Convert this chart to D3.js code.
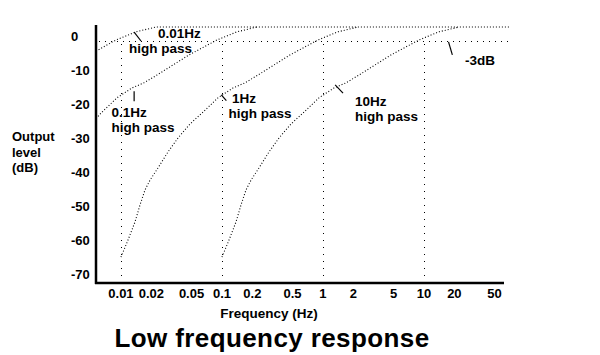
<!DOCTYPE html>
<html><head><meta charset="utf-8">
<script src="https://cdn.jsdelivr.net/npm/d3@7/dist/d3.min.js"></script>
<style>
html,body{margin:0;padding:0;background:#fff;}
svg{display:block;}
text{font-family:"Liberation Sans",Arial,sans-serif;font-weight:bold;fill:#000;}
</style></head>
<body>
<svg id="chart" width="600" height="355"></svg>
<script>
// ---- data ----
const freqTicks  = [0.01,0.02,0.05,0.1,0.2,0.5,1,2,5,10,20,50];
const freqLabels = ["0.01","0.02","0.05","0.1","0.2","0.5","1","2","5","10","20","50"];
const dbTicks    = [0,-10,-20,-30,-40,-50,-60,-70];
const gridFreqs  = [0.01,0.1,1,10];

// 0.01 Hz high pass (continues as the flat top line)
const hp001_f  = [0.00566,0.00892,0.01408,0.02221,71];
const hp001_db = [-4.5,-1.2,1.2,2.6,2.6];
// 0.1 Hz high pass
const hp01_f  = [0.00566,0.00649,0.00913,0.01285,0.01689,0.02272,0.04713,0.0892,0.1408,0.2221];
const hp01_db = [-24.3,-22.4,-18.2,-15.3,-13.8,-11.5,-5.6,-1.2,1.2,2.6];
// 1 Hz high pass
const hp1_f  = [0.0100,0.01173,0.01376,0.01542,0.01728,0.01937,0.02325,0.0292,0.0367,0.0482,0.0649,0.0913,0.1285,0.1689,0.2272,0.4713,0.892,1.408,2.221];
const hp1_db = [-65.0,-60.0,-54.7,-49.7,-45.3,-42.4,-38.8,-34.1,-30.0,-25.9,-22.4,-18.2,-15.3,-13.8,-11.5,-5.6,-1.2,1.2,2.6];
// 10 Hz high pass
const hp10_f  = [0.100,0.1173,0.1376,0.1542,0.1728,0.1937,0.2325,0.292,0.367,0.482,0.649,0.913,1.285,1.689,2.272,4.713,8.92,14.08,22.21];
const hp10_db = [-65.0,-60.0,-54.7,-49.7,-45.3,-42.4,-38.8,-34.1,-30.0,-25.9,-22.4,-18.2,-15.3,-13.8,-11.5,-5.6,-1.2,1.2,2.6];

// -3 dB reference line
const ref3_f  = [0.00606,71];
const ref3_db = [-1.76,-1.76];

// ---- chart ----
const svg = d3.select("#chart");
const x = d3.scaleLog().domain([0.00566,62]).range([96,504]);
const y = d3.scaleLinear().domain([3.2,-72.6]).range([25,283]);

const line = d3.line().x(d=>x(d[0])).y(d=>y(d[1]));
const zip = (a,b)=>a.map((v,i)=>[v,b[i]]);

// vertical dotted grid lines
svg.append("g").selectAll("line").data(gridFreqs).join("line")
  .attr("x1",d=>Math.round(x(d))+0.5).attr("x2",d=>Math.round(x(d))+0.5)
  .attr("y1",y(-2.4)).attr("y2",y(-71.2))
  .attr("stroke","#000").attr("stroke-width",1)
  .attr("stroke-dasharray","1,6").attr("shape-rendering","crispEdges");

// -3dB line
svg.append("path").attr("d",line(zip(ref3_f,ref3_db)))
  .attr("fill","none").attr("stroke","#000").attr("stroke-width",1)
  .attr("stroke-dasharray","1,5").attr("shape-rendering","crispEdges");

// curves
[[hp001_f,hp001_db],[hp01_f,hp01_db],[hp1_f,hp1_db],[hp10_f,hp10_db]].forEach(s=>{
  svg.append("path").attr("d",line(zip(s[0],s[1])))
    .attr("fill","none").attr("stroke","#000").attr("stroke-width",1.1)
    .attr("stroke-dasharray","1,2");
});

// axis lines
svg.append("line").attr("x1",x(0.00566)).attr("x2",x(0.00566))
  .attr("y1",y(3.2)).attr("y2",y(-72.6)+1).attr("stroke","#000").attr("stroke-width",2.5);
svg.append("line").attr("x1",x(0.00566)-1).attr("x2",x(62))
  .attr("y1",y(-72.6)).attr("y2",y(-72.6)).attr("stroke","#000").attr("stroke-width",2.5);

// y tick labels
svg.append("g").selectAll("text").data(dbTicks).join("text")
  .attr("x",71).attr("y",d=>y(d)+4.8)
  .attr("font-size","13px").text(d=>d);

// x tick labels
svg.append("g").selectAll("text").data(freqTicks).join("text")
  .attr("x",d=>x(d)).attr("y",298).attr("text-anchor","middle")
  .attr("font-size","13px").text((d,i)=>freqLabels[i]);

// axis titles
const yt = svg.append("text").attr("font-size","13px");
["Output","level","(dB)"].forEach((t,i)=>yt.append("tspan").attr("x",12).attr("y",141+i*15.5).text(t));
svg.append("text").attr("x",269).attr("y",318).attr("text-anchor","middle")
  .attr("font-size","13.5px").text("Frequency (Hz)");
svg.append("text").attr("x",272).attr("y",346.5).attr("text-anchor","middle")
  .attr("font-size","26px").attr("letter-spacing","0.4px").text("Low frequency response");

// annotations
const ann = [
  {lines:["0.01Hz","high pass"], xs:[158,129], ys:[38,52.5], lead:[[0.0135,1.1],[0.0158,-1.5]]},
  {lines:["0.1Hz","high pass"],  xs:[111.5,111.5], ys:[116.5,131.5], lead:[[0.0135,-16.3],[0.0135,-19.2]]},
  {lines:["1Hz","high pass"],    xs:[232,228.5], ys:[103,117.5], lead:[[0.0985,-17.3],[0.1105,-19]]},
  {lines:["10Hz","high pass"],   xs:[355,355], ys:[106,120.5], lead:[[1.32,-14.4],[1.58,-16.8]]},
  {lines:["-3dB"],               xs:[465], ys:[65], lead:[[17.5,-1.76],[19.1,-5.6]]}
];
ann.forEach(a=>{
  svg.append("path").attr("d",line(a.lead)).attr("fill","none")
    .attr("stroke","#000").attr("stroke-width",1.2);
  a.lines.forEach((t,i)=>svg.append("text").attr("x",a.xs[i]).attr("y",a.ys[i])
    .attr("font-size","13.5px").text(t));
});
</script>
</body></html>
